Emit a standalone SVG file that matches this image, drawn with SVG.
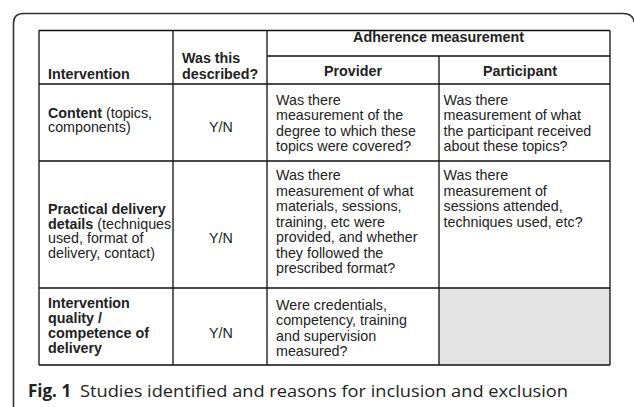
<svg xmlns="http://www.w3.org/2000/svg" width="634" height="407" viewBox="0 0 634 407">
<style>
.t{font-family:"Liberation Sans",Arial,sans-serif;font-size:14.3px;fill:#222}
.b{font-weight:bold}
.m{text-anchor:middle}
.ln{stroke:#111;stroke-width:1.3;fill:none}
.cap{font-family:"Open Sans","Noto Sans",sans-serif;font-size:17px;fill:#222}
</style>
<rect width="634" height="407" fill="#fff"/>
<path d="M13.5,407 V23.5 Q13.5,13.5 23.5,13.5 H623 Q633,13.5 634,22" stroke="#333" stroke-width="1.6" fill="none"/>
<rect x="439" y="288" width="171" height="77" fill="#e3e3e3"/>
<g id="connectors" class="ln">
<path d="M39,30.5 H610 M267,56 H610 M39,84 H610 M39,161 H610 M39,288 H610 M39,365 H610"/>
<path d="M39,30.5 V365 M173,30.5 V365 M267,30.5 V365 M439,56 V365 M610,30.5 V365"/>
</g>
<g id="header">
<text class="t b" x="48" y="78.5">Intervention</text>
<text class="t b" x="182" y="62.5">Was this</text>
<text class="t b" x="182" y="78.5">described?</text>
<text class="t b m" x="438.5" y="42">Adherence measurement</text>
<text class="t b m" x="353" y="76">Provider</text>
<text class="t b m" x="520" y="76">Participant</text>
</g>
<g id="row-content">
<text class="t" x="48" y="117.5"><tspan class="b">Content</tspan> (topics,</text>
<text class="t" x="48" y="132">components)</text>
<text class="t m" x="221" y="132">Y/N</text>
<text class="t" x="276" y="104.5">Was there</text>
<text class="t" x="276" y="120">measurement of the</text>
<text class="t" x="276" y="135.5">degree to which these</text>
<text class="t" x="276" y="151">topics were covered?</text>
<text class="t" x="443.5" y="104.5">Was there</text>
<text class="t" x="443.5" y="120">measurement of what</text>
<text class="t" x="443.5" y="135.5">the participant received</text>
<text class="t" x="443.5" y="151">about these topics?</text>
</g>
<g id="row-practical">
<text class="t b" x="48" y="214">Practical delivery</text>
<text class="t" x="48" y="228.5"><tspan class="b">details</tspan> (techniques</text>
<text class="t" x="48" y="243">used, format of</text>
<text class="t" x="48" y="257.5">delivery, contact)</text>
<text class="t m" x="221" y="243.3">Y/N</text>
<text class="t" x="276" y="180">Was there</text>
<text class="t" x="276" y="195.5">measurement of what</text>
<text class="t" x="276" y="211">materials, sessions,</text>
<text class="t" x="276" y="226.5">training, etc were</text>
<text class="t" x="276" y="242">provided, and whether</text>
<text class="t" x="276" y="257.5">they followed the</text>
<text class="t" x="276" y="273">prescribed format?</text>
<text class="t" x="443.5" y="180">Was there</text>
<text class="t" x="443.5" y="195.5">measurement of</text>
<text class="t" x="443.5" y="211">sessions attended,</text>
<text class="t" x="443.5" y="226.5">techniques used, etc?</text>
</g>
<g id="row-quality">
<text class="t b" x="48" y="308">Intervention</text>
<text class="t b" x="48" y="322.7">quality /</text>
<text class="t b" x="48" y="337.5">competence of</text>
<text class="t b" x="48" y="352.5">delivery</text>
<text class="t m" x="221" y="337.5">Y/N</text>
<text class="t" x="276" y="309.5">Were credentials,</text>
<text class="t" x="276" y="325">competency, training</text>
<text class="t" x="276" y="340.5">and supervision</text>
<text class="t" x="276" y="356">measured?</text>
</g>
<g id="caption">
<text class="cap" x="28" y="397" font-weight="bold">Fig. 1</text>
<text class="cap" x="80" y="397" textLength="488" lengthAdjust="spacingAndGlyphs">Studies identified and reasons for inclusion and exclusion</text>
</g>
</svg>
